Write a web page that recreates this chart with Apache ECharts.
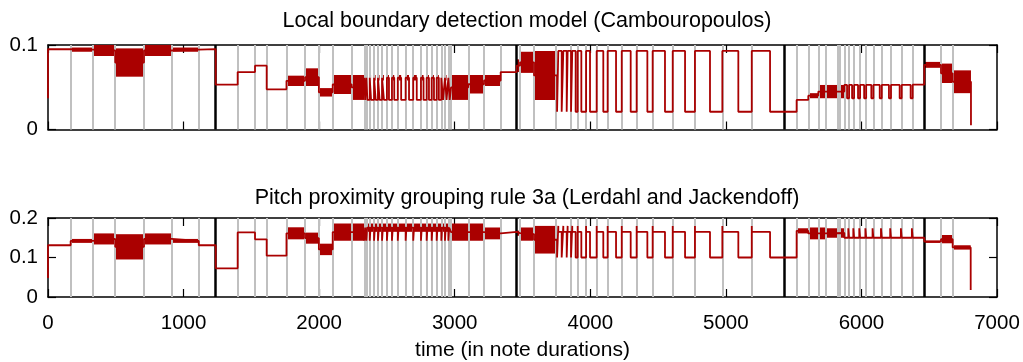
<!DOCTYPE html>
<html><head><meta charset="utf-8">
<script src="https://cdn.jsdelivr.net/npm/echarts@6/dist/echarts.min.js"></script>
<style>html,body{margin:0;padding:0;background:#fff}#c{width:1023px;height:362px}</style>
</head><body><div id="c"></div><script>
// ---- data ----
const titleTop = "Local boundary detection model (Cambouropoulos)";
const titleBottom = "Pitch proximity grouping rule 3a (Lerdahl and Jackendoff)";
const xName = "time (in note durations)";
const xRange = [0, 7000];
const xStep = 1000;
const yTopRange = [0, 0.1];
const yBottomRange = [0, 0.2];
const yStep = 0.1;

const grayLines = [167, 330, 496, 708, 912, 1112, 1399, 1527, 1613, 1759, 1896, 1998, 2100, 2240,
  2333, 2348, 2373, 2405, 2434, 2464, 2500, 2537, 2580, 2638, 2694, 2751, 2793, 2830, 2867, 2901,
  2928, 2953, 2973, 3100, 3216, 3339, 3482, 3585, 3745, 3858, 3907, 3969, 4047, 4128, 4232, 4342,
  4460, 4608, 4772, 4974, 5191, 5523, 5608, 5682, 5737, 5822, 5842, 5874, 5909, 5946, 5990, 6035,
  6088, 6150, 6218, 6297, 6378, 6587, 6673];
const blackLines = [1237, 3457, 5429, 6464];

// steps: [x, value] constant level, or [x, low, high] dense band; each lasts until next x
const topSteps = [
  [0, .037], [0, .095], [167, .092, .097], [330, .087, .100], [496, .0625, .096], [708, .087, .100],
  [912, .092, .097], [1112, .095], [1237, .053], [1399, .068], [1527, .0755], [1613, .0476],
  [1759, .0515, .0637], [1896, .0515, .0724], [1998, .039, .049], [2100, .042, .0645], [2240, .035, .0645],
  [2333, .058, .0645], [2339, .035], [2348, .058, .0645], [2356, .035], [2373, .058, .0645], [2383, .035],
  [2405, .058, .0645], [2417, .035], [2434, .058, .0645], [2446, .035], [2464, .058, .0645], [2478, .035],
  [2500, .058, .0645], [2515, .035], [2537, .058, .0645], [2554, .035], [2580, .058, .0645], [2605, .035],
  [2638, .058, .0645], [2663, .035], [2694, .058, .0645], [2720, .035], [2751, .058, .0645], [2770, .035],
  [2793, .058, .0645], [2810, .035], [2830, .058, .0645], [2847, .035], [2867, .058, .0645], [2883, .035],
  [2901, .058, .0645], [2914, .035], [2928, .058, .0645], [2940, .035], [2953, .058, .0645], [2963, .035],
  [2973, .035, .0645], [3100, .0426, .0645], [3216, .0515, .0645], [3339, .068], [3457, .068, .083],
  [3482, .067, .092], [3585, .035, .093], [3755, .021],
  [3764, .093], [3789, .021], [3801, .093], [3826, .021], [3833, .093], [3858, .021],
  [3867, .093], [3892, .021], [3907, .093], [3934, .021], [3969, .093], [3998, .021],
  [4047, .093], [4096, .021], [4128, .093], [4190, .021], [4232, .093], [4298, .021],
  [4342, .093], [4421, .021], [4460, .093], [4551, .021], [4608, .093], [4699, .021],
  [4772, .093], [4883, .021], [4974, .093], [5092, .021], [5191, .093], [5326, .021],
  [5522, .035], [5608, .037, .043], [5682, .037, .0527], [5874, .0527],
  [5894, .037], [5909, .0527], [5931, .037], [5946, .0527], [5975, .037], [5990, .0527],
  [6020, .037], [6035, .0527], [6073, .037], [6088, .0527], [6135, .037], [6150, .0527],
  [6203, .037], [6218, .0527], [6282, .037], [6297, .0527], [6363, .037], [6378, .053],
  [6464, .073, .080], [6587, .055, .078], [6673, .043, .070], [6808, .005]
];
const bottomSteps = [
  [0, .048], [0, .131], [167, .137, .147], [330, .133, .161], [496, .095, .159], [708, .133, .161],
  [912, .137, .147], [1112, .131], [1237, .0727], [1399, .1636], [1527, .146], [1613, .1045],
  [1759, .146, .1765], [1896, .135, .163], [1998, .106, .135], [2100, .1425, .186],
  [2333, .1425], [2339, .165, .186], [2348, .1425], [2354, .165, .186], [2373, .1425], [2379, .165, .186],
  [2405, .1425], [2411, .165, .186], [2434, .1425], [2440, .165, .186], [2464, .1425], [2470, .165, .186],
  [2500, .1425], [2506, .165, .186], [2537, .1425], [2543, .165, .186], [2580, .1425], [2586, .165, .186],
  [2638, .1425], [2644, .165, .186], [2694, .1425], [2700, .165, .186], [2751, .1425], [2757, .165, .186],
  [2793, .1425], [2799, .165, .186], [2830, .1425], [2836, .165, .186], [2867, .1425], [2873, .165, .186],
  [2901, .1425], [2907, .165, .186], [2928, .1425], [2934, .165, .186], [2953, .1425], [2959, .165, .186],
  [2973, .1425, .186], [3216, .146, .176], [3339, .165], [3457, .155, .168], [3482, .1425, .176],
  [3585, .11, .18], [3755, .10],
  [3764, .18], [3764, .165], [3789, .10], [3801, .18], [3801, .165], [3826, .10],
  [3833, .18], [3833, .165], [3858, .10], [3867, .18], [3867, .165], [3892, .10],
  [3907, .18], [3907, .165], [3934, .10], [3969, .18], [3969, .165], [3998, .10],
  [4047, .18], [4047, .165], [4096, .10], [4128, .18], [4128, .165], [4190, .10],
  [4232, .18], [4232, .165], [4298, .10], [4342, .18], [4342, .165], [4421, .10],
  [4460, .18], [4460, .165], [4551, .10], [4608, .18], [4608, .165], [4699, .10],
  [4772, .18], [4772, .165], [4883, .10], [4974, .18], [4974, .165], [5092, .10],
  [5191, .18], [5191, .165], [5326, .10],
  [5522, .161, .174], [5608, .146, .176], [5737, .15, .174], [5874, .15],
  [5903, .174], [5909, .15], [5940, .174], [5946, .15], [5984, .174], [5990, .15],
  [6029, .174], [6035, .15], [6082, .174], [6088, .15], [6144, .174], [6150, .15],
  [6212, .174], [6218, .15], [6291, .174], [6297, .15], [6372, .174], [6378, .15],
  [6464, .137, .143], [6587, .136, .157], [6673, .12, .131], [6806, .0175]
];

// ---- build ----
const RED = '#aa0000';
function buildLine(steps) {
  const pts = [];
  for (let i = 0; i < steps.length; i++) {
    const s = steps[i];
    const x1 = i + 1 < steps.length ? steps[i + 1][0] : s[0];
    const v = s.length === 2 ? s[1] : (s[1] + s[2]) / 2;
    pts.push([s[0], v], [x1, v]);
  }
  return pts;
}
function buildBands(steps) {
  const out = [];
  for (let i = 0; i < steps.length; i++) {
    const s = steps[i];
    if (s.length === 3) {
      const x1 = i + 1 < steps.length ? steps[i + 1][0] : s[0];
      out.push([s[0], x1, s[1], s[2]]);
    }
  }
  return out;
}
function renderBand(params, api) {
  const p0 = api.coord([api.value(0), api.value(3)]);
  const p1 = api.coord([api.value(1), api.value(2)]);
  return { type: 'rect', shape: { x: p0[0], y: p0[1], width: Math.max(p1[0] - p0[0], 0.5), height: p1[1] - p0[1] },
    style: { fill: RED } };
}
const FONT = 'Liberation Sans, Arial, sans-serif';
const axisLine = { show: true, onZero: false, lineStyle: { color: '#000', width: 1.5 } };
const axisTick = { show: true, inside: true, length: 8, lineStyle: { color: '#000', width: 1.2 } };
function xAx(grid, pos, labels, name) {
  return { type: 'value', gridIndex: grid, position: pos, min: xRange[0], max: xRange[1], interval: xStep,
    axisLine, axisTick, splitLine: { show: false },
    axisLabel: { show: labels, color: '#000', fontSize: 20.5, fontFamily: FONT, margin: 16,
      formatter: v => String(v) },
    name: name || '', nameLocation: 'middle', nameGap: 43,
    nameTextStyle: { color: '#000', fontSize: 21, fontFamily: FONT } };
}
function yAx(grid, pos, labels, range) {
  return { type: 'value', gridIndex: grid, position: pos, min: range[0], max: range[1], interval: yStep,
    axisLine, axisTick, splitLine: { show: false },
    axisLabel: { show: labels, color: '#000', fontSize: 20.5, fontFamily: FONT, margin: 10,
      formatter: v => String(Math.round(v * 10) / 10) } };
}
function vlines(grid, list, color, width, z) {
  return { type: 'line', xAxisIndex: grid * 2, yAxisIndex: grid * 2, data: [[0, 0]], symbol: 'none',
    lineStyle: { opacity: 0 }, silent: true, z: z, animation: false,
    markLine: { silent: true, symbol: ['none', 'none'], label: { show: false },
      lineStyle: { color: color, width: width, type: 'solid' },
      emphasis: { disabled: true },
      data: list.map(v => ({ xAxis: v })) } };
}
function signal(grid, steps) {
  return [
    { type: 'custom', xAxisIndex: grid * 2, yAxisIndex: grid * 2, renderItem: renderBand,
      encode: { x: [0, 1], y: [2, 3] }, data: buildBands(steps), z: 4, silent: true, animation: false },
    { type: 'line', xAxisIndex: grid * 2, yAxisIndex: grid * 2, data: buildLine(steps), symbol: 'none',
      lineStyle: { color: RED, width: 1.8 }, z: 5, silent: true, animation: false }
  ];
}
const chart = echarts.init(document.getElementById('c'), null, { renderer: 'canvas' });
chart.setOption({
  backgroundColor: '#fff',
  animation: false,
  title: [
    { text: titleTop, left: 522, top: 5, textAlign: 'center',
      textStyle: { fontSize: 21.5, fontWeight: 'normal', color: '#000', fontFamily: FONT } },
    { text: titleBottom, left: 522, top: 182, textAlign: 'center',
      textStyle: { fontSize: 21.5, fontWeight: 'normal', color: '#000', fontFamily: FONT } }
  ],
  grid: [
    { left: 48, width: 949, top: 45, height: 84.5 },
    { left: 48, width: 949, top: 218, height: 88 }
  ],
  xAxis: [xAx(0, 'bottom', false), xAx(0, 'top', false), xAx(1, 'bottom', true, xName), xAx(1, 'top', false)],
  yAxis: [yAx(0, 'left', true, yTopRange), yAx(0, 'right', false, yTopRange),
          yAx(1, 'left', true, yBottomRange), yAx(1, 'right', false, yBottomRange)],
  series: [
    vlines(0, grayLines, '#c0c0c0', 2, 1), vlines(0, blackLines, '#000', 2.5, 2), ...signal(0, topSteps),
    vlines(1, grayLines, '#c0c0c0', 2, 1), vlines(1, blackLines, '#000', 2.5, 2), ...signal(1, bottomSteps)
  ]
});
</script></body></html>
